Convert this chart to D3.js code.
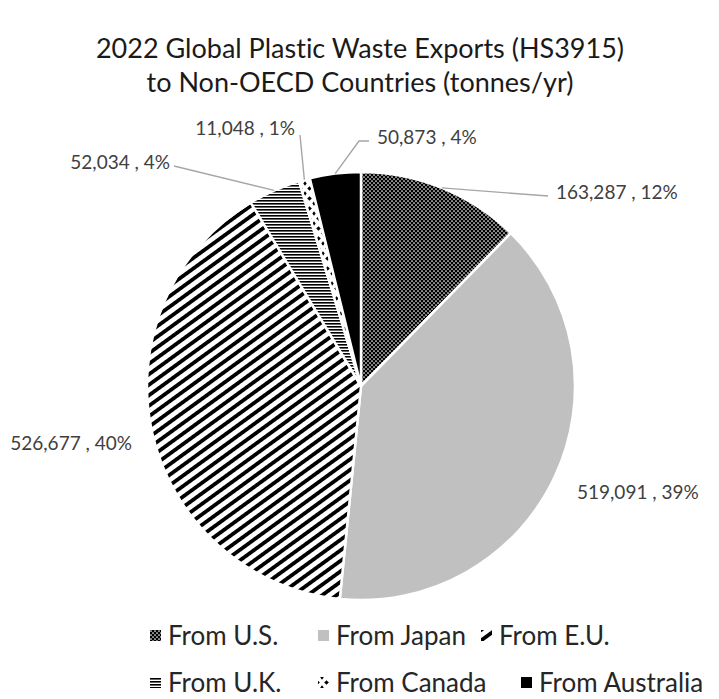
<!DOCTYPE html>
<html>
<head>
<meta charset="utf-8">
<script src="https://cdn.jsdelivr.net/npm/d3@7/dist/d3.min.js"></script>
<style>
  html, body { margin: 0; padding: 0; background: #fff; }
  svg { display: block; }
  text { font-variant-ligatures: none; }
</style>
</head>
<body>
<script>
// ---- data ----
const categories = ["From U.S.", "From Japan", "From E.U.", "From U.K.", "From Canada", "From Australia"];
const values = [163287, 519091, 526677, 52034, 11048, 50873];
const titleLines = ["2022 Global Plastic Waste Exports (HS3915)", "to Non-OECD Countries (tonnes/yr)"];

// ---- layout ----
const W = 719, H = 699;
const cx = 361, cy = 386, R = 214;
const fontFam = "Lato, 'Open Sans', sans-serif";
const labelLayout = [
  { x: 556, y: 192, anchor: "start", leader: [[548, 196]] },
  { x: 577, y: 492, anchor: "start", leader: null },
  { x: 132, y: 443, anchor: "end", leader: null },
  { x: 170, y: 162, anchor: "end", leader: [[174, 166]] },
  { x: 295, y: 128, anchor: "end", leader: [[300, 135]] },
  { x: 377, y: 137, anchor: "start", leader: [[359, 141], [369, 141]] }
];
const legendPos = [[150, 636], [318, 636], [481, 636], [150, 683], [318, 683], [521, 683]];

const svg = d3.select("body").append("svg").attr("width", W).attr("height", H);
const defs = svg.append("defs");

// patterns
const pUS = defs.append("pattern").attr("id", "p0").attr("patternUnits", "userSpaceOnUse").attr("width", 4).attr("height", 4);
pUS.append("rect").attr("width", 4).attr("height", 4).attr("fill", "#000");
pUS.append("circle").attr("cx", 1).attr("cy", 1).attr("r", 0.85).attr("fill", "#fff");
pUS.append("circle").attr("cx", 3).attr("cy", 3).attr("r", 0.85).attr("fill", "#fff");

const pEU = defs.append("pattern").attr("id", "p2").attr("patternUnits", "userSpaceOnUse")
  .attr("width", 8.5).attr("height", 8.5).attr("patternTransform", "rotate(-36)");
pEU.append("rect").attr("width", 8.5).attr("height", 8.5).attr("fill", "#fff");
pEU.append("rect").attr("width", 8.5).attr("height", 3.8).attr("fill", "#000");

const pUK = defs.append("pattern").attr("id", "p3").attr("patternUnits", "userSpaceOnUse").attr("width", 4).attr("height", 3);
pUK.append("rect").attr("width", 4).attr("height", 3).attr("fill", "#fff");
pUK.append("rect").attr("width", 4).attr("height", 1.6).attr("fill", "#000");

const pCA = defs.append("pattern").attr("id", "p4").attr("patternUnits", "userSpaceOnUse").attr("width", 9).attr("height", 10);
pCA.append("rect").attr("width", 9).attr("height", 10).attr("fill", "#fff");
pCA.append("path").attr("d", "M2.5,0.3 L4.8,2.5 L2.5,4.7 L0.2,2.5 Z").attr("fill", "#000");
pCA.append("path").attr("d", "M7,5.3 L8.7,7.5 L7,9.7 L5.3,7.5 Z").attr("fill", "#000");

const fills = ["url(#p0)", "#c0c0c0", "url(#p2)", "url(#p3)", "url(#p4)", "#000"];

// ---- title ----
const title = svg.append("g").attr("font-family", fontFam).attr("font-size", 27).attr("fill", "#1a1a1a").attr("text-anchor", "middle");
title.selectAll("text").data(titleLines).join("text")
  .attr("x", 360).attr("y", (d, i) => 58 + i * 34).text(d => d);

// ---- pie ----
const total = d3.sum(values);
const pie = d3.pie().sort(null).value(d => d)(values);
const arc = d3.arc().innerRadius(0).outerRadius(R);
const g = svg.append("g").attr("transform", `translate(${cx},${cy})`);
g.selectAll("path").data(pie).join("path")
  .attr("d", arc)
  .attr("fill", (d, i) => fills[i])
  .attr("stroke", "#fff").attr("stroke-width", 2.5).attr("stroke-linejoin", "round");

// ---- leaders & labels ----
const fmt = d3.format(",");
const lab = svg.append("g").attr("font-family", fontFam).attr("font-size", 19).attr("fill", "#404040");
pie.forEach((d, i) => {
  const L = labelLayout[i];
  const mid = (d.startAngle + d.endAngle) / 2;
  const sx = cx + R * Math.sin(mid), sy = cy - R * Math.cos(mid);
  if (L.leader) {
    const pts = [[sx, sy]].concat(L.leader);
    svg.append("path").attr("d", d3.line()(pts)).attr("fill", "none")
      .attr("stroke", "#a6a6a6").attr("stroke-width", 1.4);
  }
  lab.append("text").attr("x", L.x).attr("y", L.y).attr("dy", "0.35em")
    .attr("text-anchor", L.anchor)
    .text(fmt(values[i]) + " , " + Math.round(values[i] / total * 100) + "%");
});

// ---- legend ----
const leg = svg.append("g").attr("font-family", fontFam).attr("font-size", 26).attr("fill", "#262626");
categories.forEach((c, i) => {
  const [x, y] = legendPos[i];
  leg.append("rect").attr("x", x).attr("y", y - 6).attr("width", 11).attr("height", 11).attr("fill", fills[i]);
  leg.append("text").attr("x", x + 18).attr("y", y).attr("dy", "0.36em").text(c);
});
</script>
</body>
</html>
